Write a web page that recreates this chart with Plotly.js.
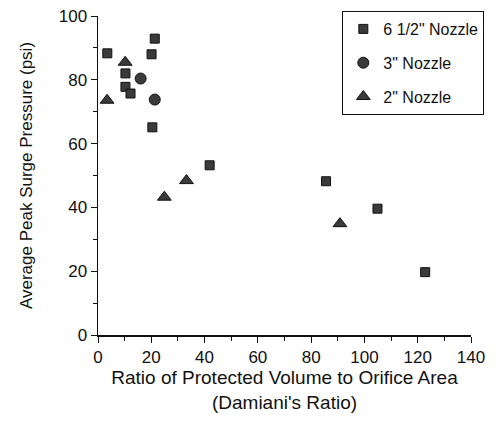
<!DOCTYPE html>
<html>
<head>
<meta charset="utf-8">
<script src="https://cdn.plot.ly/plotly-3.0.1.min.js"></script>
<style>html,body{margin:0;padding:0;background:#fff;}#chart{width:497px;height:438px;}</style>
</head>
<body>
<div id="chart"></div>
<script>
// Data
const seriesNames = ['6 1/2" Nozzle', '3" Nozzle', '2" Nozzle'];
const nozzle65X = [3.5, 10.3, 10.3, 12.2, 20.1, 21.3, 20.4, 41.9, 85.6, 104.9, 122.8];
const nozzle65Y = [88.3, 82.0, 77.8, 75.7, 88.0, 92.9, 65.1, 53.2, 48.2, 39.6, 19.7];
const nozzle3X = [16.0, 21.3];
const nozzle3Y = [80.4, 73.8];
const nozzle2X = [10.2, 3.4, 24.9, 33.2, 90.8];
const nozzle2Y = [85.5, 73.6, 43.2, 48.4, 34.9];
const xTickVals = [0, 20, 40, 60, 80, 100, 120, 140];
const yTickVals = [0, 20, 40, 60, 80, 100];

const fontFam = 'Liberation Sans, Arial, Helvetica, sans-serif';
const mk = (sym, size) => ({symbol: sym, size: size, color: '#3a3a3a', line: {color: '#111', width: 1}});

const traces = [
  {x: nozzle65X, y: nozzle65Y, name: seriesNames[0], mode: 'markers', type: 'scatter', legendgroup: 'a', marker: mk('square', 9)},
  {x: nozzle3X, y: nozzle3Y, name: seriesNames[1], mode: 'markers', type: 'scatter', legendgroup: 'b', marker: mk('circle', 11)},
  {x: nozzle2X, y: nozzle2Y, name: seriesNames[2], mode: 'markers', type: 'scatter', legendgroup: 'c', marker: mk('triangle-up', 12)}
];

const layout = {
  width: 497, height: 438,
  margin: {l: 98, r: 26, t: 15, b: 103},
  paper_bgcolor: '#fff', plot_bgcolor: '#fff',
  font: {family: fontFam, color: '#111', size: 17},
  showlegend: true,
  legend: {
    x: 0.655, y: 1.0125, xanchor: 'left', yanchor: 'top',
    bordercolor: '#111', borderwidth: 1, bgcolor: '#fff',
    font: {size: 16, family: fontFam},
    traceorder: 'grouped', tracegroupgap: 10,
    itemwidth: 30
  },
  xaxis: {
    range: [0, 140], tickvals: xTickVals, ticks: 'outside', ticklen: 6, tickwidth: 1, tickcolor: '#111',
    showline: true, linecolor: '#111', linewidth: 1.5, showgrid: false, zeroline: false,
    minor: {ticks: 'outside', ticklen: 4, dtick: 10, tick0: 0, tickcolor: '#111', showgrid: false},
    tickfont: {size: 17}, automargin: true,
    title: {text: 'Ratio of Protected Volume to Orifice Area<br>(Damiani\'s Ratio)', font: {size: 19}, standoff: 1}
  },
  yaxis: {
    range: [0, 100], tickvals: yTickVals, ticks: 'outside', ticklen: 6, tickwidth: 1, tickcolor: '#111',
    showline: true, linecolor: '#111', linewidth: 1.5, showgrid: false, zeroline: false,
    minor: {ticks: 'outside', ticklen: 4, dtick: 10, tick0: 0, tickcolor: '#111', showgrid: false},
    tickfont: {size: 17}, automargin: false,
    title: {text: 'Average Peak Surge Pressure (psi)', font: {size: 17}, standoff: 22}
  }
};

Plotly.newPlot('chart', traces, layout, {staticPlot: true, displayModeBar: false});
</script>
</body>
</html>
